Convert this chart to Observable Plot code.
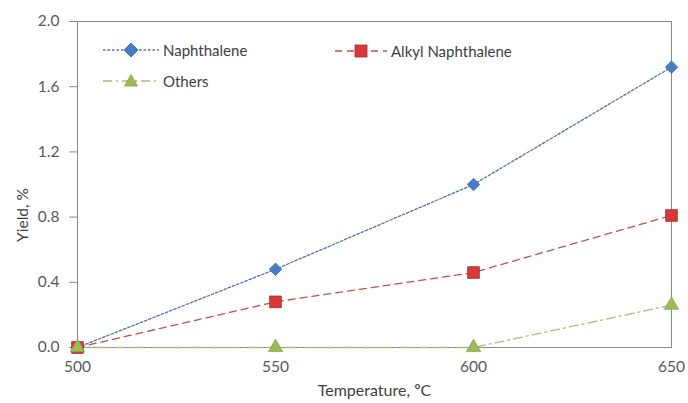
<!DOCTYPE html>
<html>
<head>
<meta charset="utf-8">
<script src="https://cdn.jsdelivr.net/npm/d3@7"></script>
<script src="https://cdn.jsdelivr.net/npm/@observablehq/plot@0.6"></script>
<style>
  html, body { margin: 0; padding: 0; background: #fff; }
  #wrap { position: relative; width: 688px; height: 403px; font-family: Lato, "Open Sans", sans-serif; }
  #ytitle { position: absolute; left: 22px; top: 215px; transform: translate(-50%, -50%) rotate(-90deg); font-size: 15.5px; color: #404040; white-space: nowrap; }
  .leg { position: absolute; display: flex; align-items: center; font-size: 15px; color: #404040; white-space: nowrap; }
  .leg svg { margin-right: 4px; }
</style>
</head>
<body>
<div id="wrap"></div>
<script>
const temperatures = [500, 550, 600, 650];
const naphthalene = [0, 0.48, 1.0, 1.72];
const alkylNaphthalene = [0, 0.28, 0.46, 0.81];
const others = [0, 0, 0, 0.26];
const seriesNames = ["Naphthalene", "Alkyl Naphthalene", "Others"];
const yTicks = [0, 0.4, 0.8, 1.2, 1.6, 2.0];
const xTicks = [500, 550, 600, 650];

const styles = {
  "Naphthalene": {line: "#5670a0", dash: "2.5,2", fill: "#4a7cc4", edge: "#3a68ae", symbol: "diamond2", r: 5.6},
  "Alkyl Naphthalene": {line: "#c0504d", dash: "7,5", fill: "#d9393a", edge: "#a82a2a", symbol: "square", r: 6.6},
  "Others": {line: "#b4b87a", dash: "9,4,2,4", fill: "#9bbb59", edge: "#86a648", symbol: "triangle", r: 5.3}
};

const seriesValues = [naphthalene, alkylNaphthalene, others];
const data = [];
seriesNames.forEach((s, i) => temperatures.forEach((t, j) => data.push({series: s, t, y: seriesValues[i][j]})));

const marks = [
  Plot.frame({stroke: "#8a8a8a"}),
  Plot.axisY(yTicks, {tickSize: 8, tickPadding: 10, tickFormat: d => d.toFixed(1), fontSize: 15.5, color: "#595959", stroke: "#8a8a8a", label: null}),
  Plot.axisX(xTicks, {tickSize: 0, tickPadding: 13, fontSize: 15.5, color: "#595959", label: "Temperature, ºC", labelAnchor: "center", labelOffset: 48, labelArrow: "none"})
];
for (const s of seriesNames) {
  const st = styles[s];
  const d = data.filter(e => e.series === s);
  marks.push(Plot.line(d, {x: "t", y: "y", stroke: st.line, strokeWidth: 1.3, strokeDasharray: st.dash}));
}
for (const s of seriesNames) {
  const st = styles[s];
  const d = data.filter(e => e.series === s);
  marks.push(Plot.dot(d, {x: "t", y: "y", symbol: st.symbol, r: st.r, fill: st.fill, stroke: st.edge, strokeWidth: 0.8}));
}

const chart = Plot.plot({
  width: 688, height: 403,
  marginLeft: 77, marginRight: 17, marginTop: 21, marginBottom: 56,
  style: {fontFamily: "Lato, 'Open Sans', sans-serif", fontSize: "15px", color: "#404040", background: "#fff"},
  x: {domain: [500, 650]},
  y: {domain: [0, 2]},
  marks
});
const wrap = document.getElementById("wrap");
wrap.appendChild(chart);
chart.querySelectorAll("[aria-label='x-axis label'] text").forEach(t => { t.setAttribute("font-size", "16"); t.setAttribute("fill", "#404040"); });

const yt = document.createElement("div");
yt.id = "ytitle"; yt.textContent = "Yield, %";
wrap.appendChild(yt);

const legendPos = {
  "Naphthalene": {left: 103, top: 50},
  "Alkyl Naphthalene": {left: 335, top: 51},
  "Others": {left: 103, top: 81}
};
const symbolPath = {
  diamond2: "M0,-7L7,0L0,7L-7,0Z",
  square: "M-6,-6H6V6H-6Z",
  triangle: "M0,-6.5L6.5,5H-6.5Z"
};
for (const s of seriesNames) {
  const st = styles[s];
  const w = s === "Alkyl Naphthalene" ? 52 : 56;
  const div = document.createElement("div");
  div.className = "leg";
  div.style.left = legendPos[s].left + "px";
  div.style.top = (legendPos[s].top - 10) + "px";
  div.innerHTML = `<svg width="${w}" height="20"><line x1="0" x2="${w}" y1="10" y2="10" stroke="${st.line}" stroke-width="1.3" stroke-dasharray="${st.dash}"/><path transform="translate(${w/2},10)" d="${symbolPath[st.symbol]}" fill="${st.fill}" stroke="${st.edge}" stroke-width="0.8"/></svg><span>${s}</span>`;
  wrap.appendChild(div);
}
</script>
</body>
</html>
